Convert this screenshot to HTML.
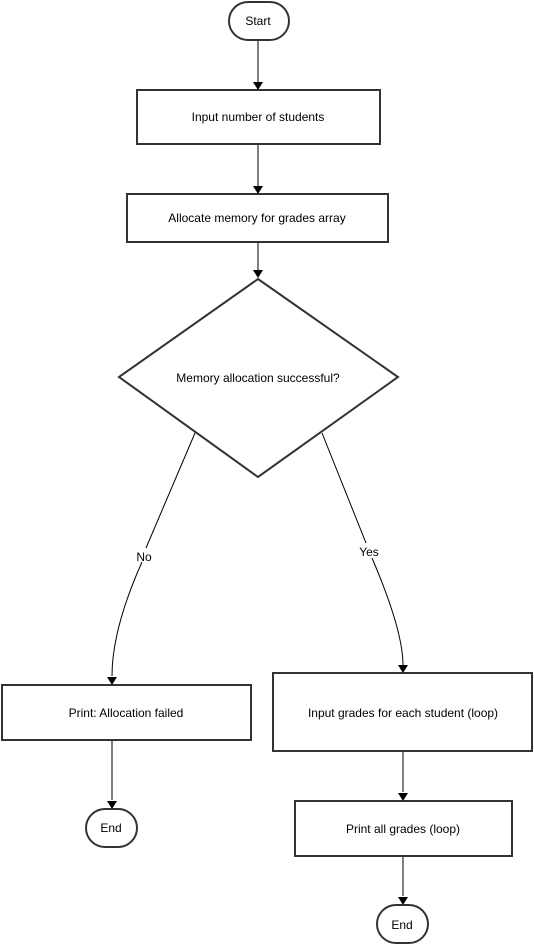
<!DOCTYPE html>
<html><head><style>html,body{margin:0;padding:0;background:#fff;}svg{display:block}</style></head>
<body>
<svg width="534" height="945" viewBox="0 0 534 945" xmlns="http://www.w3.org/2000/svg" font-family="Liberation Sans, Arial, sans-serif" font-size="12" fill="none">
<defs><marker id="a" markerWidth="10" markerHeight="10" refX="5" refY="8" orient="auto" markerUnits="userSpaceOnUse"><path d="M0,0 L10,0 L5,8 z" fill="#000" transform="rotate(0)"/></marker></defs>
<g stroke="#333" stroke-width="2" fill="#fff">
<rect x="229" y="2" width="60" height="38" rx="19"/>
<rect x="137" y="90" width="243" height="54"/>
<rect x="127" y="194" width="261" height="48"/>
<polygon points="258,279 398,377 258,477 119,377"/>
<rect x="2" y="685" width="249" height="55"/>
<rect x="86" y="809" width="51" height="38" rx="19"/>
<rect x="273" y="673" width="259" height="78"/>
<rect x="295" y="801" width="217" height="55"/>
<rect x="377" y="905" width="51" height="38" rx="19"/>
</g>
<g stroke="#000" stroke-width="1">
<line x1="258" y1="41" x2="258" y2="82"/>
<line x1="258" y1="145" x2="258" y2="186"/>
<line x1="258" y1="243" x2="258" y2="270"/>
<path d="M195,433 L146,548 M142,562 C125,600 112,640 112,676"/>
<path d="M322,433 L366,543 M372,558 C390,600 403,640 403,665"/>
<line x1="112" y1="741" x2="112" y2="800"/>
<line x1="403" y1="752" x2="403" y2="792"/>
<line x1="403" y1="857" x2="403" y2="896"/>
</g>
<g fill="#000">
<path d="M253,82 L263,82 L258,90 z"/>
<path d="M253,186 L263,186 L258,194 z"/>
<path d="M253,270 L263,270 L258,278 z"/>
<path d="M107,677 L117,677 L112,685 z"/>
<path d="M398,665 L408,665 L403,673 z"/>
<path d="M107,801 L117,801 L112,809 z"/>
<path d="M398,793 L408,793 L403,801 z"/>
<path d="M398,897 L408,897 L403,905 z"/>
</g>
<g fill="#000" text-anchor="middle">
<text x="258" y="25">Start</text>
<text x="258" y="121">Input number of students</text>
<text x="257" y="222">Allocate memory for grades array</text>
<text x="258" y="382">Memory allocation successful?</text>
<text x="144" y="561">No</text>
<text x="369" y="556">Yes</text>
<text x="126" y="717">Print: Allocation failed</text>
<text x="111" y="832">End</text>
<text x="403" y="717">Input grades for each student (loop)</text>
<text x="403" y="833">Print all grades (loop)</text>
<text x="402" y="929">End</text>
</g>
</svg>
</body></html>
